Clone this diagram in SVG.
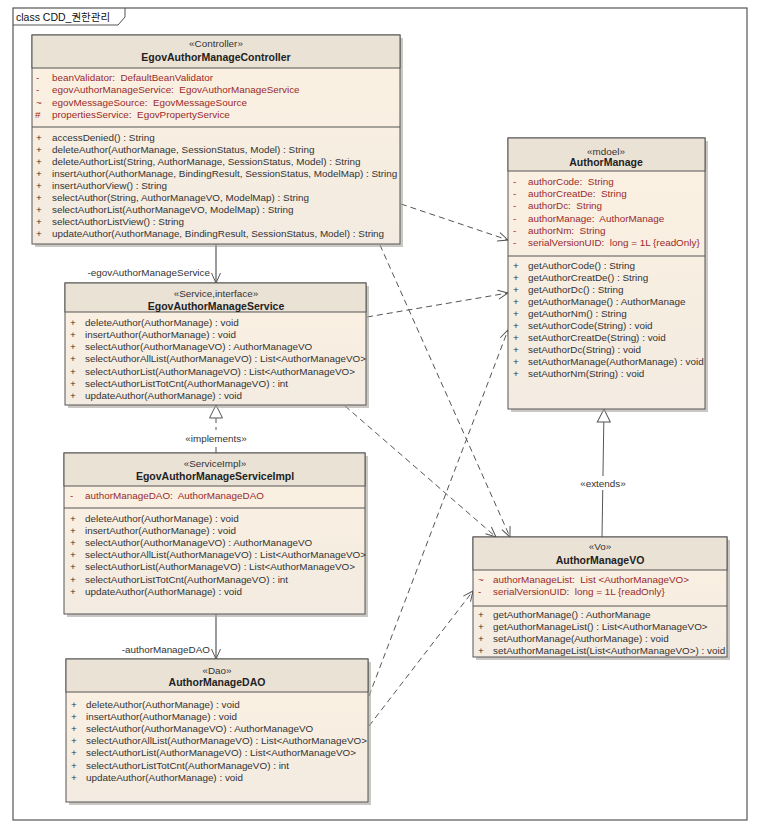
<svg xmlns="http://www.w3.org/2000/svg" width="759" height="831" viewBox="0 0 759 831">
<defs>
<linearGradient id="body" x1="0" y1="0" x2="0" y2="1">
<stop offset="0" stop-color="#fcf1e2"/>
<stop offset="1" stop-color="#f3ebe1"/>
</linearGradient>
<marker id="open" markerWidth="12" markerHeight="12" viewBox="-11 -6 12 12" refX="0" refY="0" orient="auto" markerUnits="userSpaceOnUse">
<path d="M-10,-4.5 L0,0 L-10,4.5" fill="none" stroke="#555" stroke-width="1"/>
</marker>
<marker id="tri" markerWidth="16" markerHeight="16" viewBox="-14 -8 16 16" refX="0" refY="0" orient="auto" markerUnits="userSpaceOnUse">
<path d="M-13,-6.5 L0,0 L-13,6.5 Z" fill="#fff" stroke="#555" stroke-width="1"/>
</marker>
</defs>
<style>
text{font-family:"Liberation Sans",Arial,"Noto Sans CJK KR",sans-serif;font-size:9.9px;fill:#333}
.st{text-anchor:middle}
.nm{text-anchor:middle;font-weight:bold;font-size:10.5px;fill:#222}
.at{fill:#9a2a2a;white-space:pre}
.sh{fill:#a8a39c;opacity:0.6}
.hd{fill:#ebe2d6;stroke:#555;stroke-width:1}
.bd{fill:url(#body);stroke:#555;stroke-width:1}
.sep{stroke:#555;stroke-width:1}
.dep{fill:none;stroke:#555;stroke-width:1;stroke-dasharray:6,4;marker-end:url(#open)}
.asc{fill:none;stroke:#666;stroke-width:1.3;marker-end:url(#open)}
.lbl{fill:#333}
</style>
<rect x="0" y="0" width="759" height="831" fill="#fff"/>
<g id="frame">
<rect x="13" y="8" width="734" height="812" fill="none" stroke="#555" stroke-width="1.2"/>
<path d="M13,25 L118,25 L125,17 L125,8" fill="none" stroke="#555" stroke-width="1"/>
<text x="16" y="20.5" style="font-size:10.5px;fill:#111">class CDD_권한관리</text>
</g>

<g id="connectors">
<line x1="216" y1="244" x2="216" y2="283" class="asc"/>
<line x1="216" y1="614" x2="216" y2="659" class="asc"/>
<line x1="216" y1="453" x2="216" y2="405" fill="none" stroke="#555" stroke-width="1" stroke-dasharray="6,4" marker-end="url(#tri)"/>
<line x1="602" y1="537" x2="604" y2="409" fill="none" stroke="#555" stroke-width="1" marker-end="url(#tri)"/>
<line x1="401" y1="204" x2="508" y2="240" class="dep"/>
<line x1="367" y1="317" x2="508" y2="293" class="dep"/>
<line x1="380" y1="245" x2="510" y2="537" class="dep"/>
<line x1="345" y1="406" x2="496" y2="537" class="dep"/>
<line x1="369" y1="696" x2="508" y2="330" class="dep"/>
<line x1="369" y1="726" x2="473" y2="591" class="dep"/>
<text x="210" y="275.5" text-anchor="end" class="lbl">-egovAuthorManageService</text>
<text x="210" y="652.5" text-anchor="end" class="lbl">-authorManageDAO</text>
<rect x="180" y="430" width="72" height="14" fill="#fff"/>
<text x="216" y="441.5" class="st lbl">«implements»</text>
<rect x="576" y="476" width="54" height="14" fill="#fff"/>
<text x="603" y="486.5" class="st lbl">«extends»</text>
</g>

<g id="EgovAuthorManageController">
<rect x="35" y="38" width="368" height="209" class="sh"/>
<rect x="32" y="35" width="368" height="209" class="bd"/>
<rect x="32" y="35" width="368" height="33" class="hd"/>
<line x1="32" y1="127" x2="400" y2="127" class="sep"/>
<text x="216" y="47" class="st">«Controller»</text>
<text x="216" y="61" class="nm">EgovAuthorManageController</text>
<text x="36" y="80.5" class="at">-</text><text x="52" y="80.5" class="at">beanValidator:  DefaultBeanValidator</text>
<text x="36" y="93" class="at">-</text><text x="52" y="93" class="at">egovAuthorManageService:  EgovAuthorManageService</text>
<text x="36" y="105.5" class="at">~</text><text x="52" y="105.5" class="at">egovMessageSource:  EgovMessageSource</text>
<text x="35" y="117.5" class="at">#</text><text x="52" y="117.5" class="at">propertiesService:  EgovPropertyService</text>
<text x="36" y="140.5">+</text><text x="52" y="140.5">accessDenied() : String</text>
<text x="36" y="152.6">+</text><text x="52" y="152.6">deleteAuthor(AuthorManage, SessionStatus, Model) : String</text>
<text x="36" y="164.7">+</text><text x="52" y="164.7">deleteAuthorList(String, AuthorManage, SessionStatus, Model) : String</text>
<text x="36" y="176.8">+</text><text x="52" y="176.8">insertAuthor(AuthorManage, BindingResult, SessionStatus, ModelMap) : String</text>
<text x="36" y="188.9">+</text><text x="52" y="188.9">insertAuthorView() : String</text>
<text x="36" y="201">+</text><text x="52" y="201">selectAuthor(String, AuthorManageVO, ModelMap) : String</text>
<text x="36" y="213.1">+</text><text x="52" y="213.1">selectAuthorList(AuthorManageVO, ModelMap) : String</text>
<text x="36" y="225.2">+</text><text x="52" y="225.2">selectAuthorListView() : String</text>
<text x="36" y="237.3">+</text><text x="52" y="237.3">updateAuthor(AuthorManage, BindingResult, SessionStatus, Model) : String</text>
</g>

<g id="EgovAuthorManageService">
<rect x="68" y="286" width="301" height="122" class="sh"/>
<rect x="65" y="283" width="301" height="122" class="bd"/>
<rect x="65" y="283" width="301" height="29" class="hd"/>
<text x="216" y="296.5" class="st">«Service,interface»</text>
<text x="216" y="309.5" class="nm">EgovAuthorManageService</text>
<text x="70" y="325.5">+</text><text x="85" y="325.5">deleteAuthor(AuthorManage) : void</text>
<text x="70" y="337.8">+</text><text x="85" y="337.8">insertAuthor(AuthorManage) : void</text>
<text x="70" y="350.1">+</text><text x="85" y="350.1">selectAuthor(AuthorManageVO) : AuthorManageVO</text>
<text x="70" y="362.4">+</text><text x="85" y="362.4">selectAuthorAllList(AuthorManageVO) : List&lt;AuthorManageVO&gt;</text>
<text x="70" y="374.7">+</text><text x="85" y="374.7">selectAuthorList(AuthorManageVO) : List&lt;AuthorManageVO&gt;</text>
<text x="70" y="387">+</text><text x="85" y="387">selectAuthorListTotCnt(AuthorManageVO) : int</text>
<text x="70" y="399.3">+</text><text x="85" y="399.3">updateAuthor(AuthorManage) : void</text>
</g>

<g id="EgovAuthorManageServiceImpl">
<rect x="67" y="456" width="301" height="161" class="sh"/>
<rect x="64" y="453" width="301" height="161" class="bd"/>
<rect x="64" y="453" width="301" height="33" class="hd"/>
<line x1="64" y1="508" x2="365" y2="508" class="sep"/>
<text x="215" y="466.5" class="st">«ServiceImpl»</text>
<text x="215" y="479.5" class="nm">EgovAuthorManageServiceImpl</text>
<text x="70" y="498.5" class="at">-</text><text x="85" y="498.5" class="at">authorManageDAO:  AuthorManageDAO</text>
<text x="70" y="521.5">+</text><text x="85" y="521.5">deleteAuthor(AuthorManage) : void</text>
<text x="70" y="533.7">+</text><text x="85" y="533.7">insertAuthor(AuthorManage) : void</text>
<text x="70" y="545.9">+</text><text x="85" y="545.9">selectAuthor(AuthorManageVO) : AuthorManageVO</text>
<text x="70" y="558.1">+</text><text x="85" y="558.1">selectAuthorAllList(AuthorManageVO) : List&lt;AuthorManageVO&gt;</text>
<text x="70" y="570.3">+</text><text x="85" y="570.3">selectAuthorList(AuthorManageVO) : List&lt;AuthorManageVO&gt;</text>
<text x="70" y="582.5">+</text><text x="85" y="582.5">selectAuthorListTotCnt(AuthorManageVO) : int</text>
<text x="70" y="594.7">+</text><text x="85" y="594.7">updateAuthor(AuthorManage) : void</text>
</g>

<g id="AuthorManageDAO">
<rect x="69" y="662" width="302" height="143" class="sh"/>
<rect x="66" y="659" width="302" height="143" class="bd"/>
<rect x="66" y="659" width="302" height="33" class="hd"/>
<text x="217" y="673.5" class="st">«Dao»</text>
<text x="217" y="685.5" class="nm">AuthorManageDAO</text>
<text x="71" y="707.5">+</text><text x="86" y="707.5">deleteAuthor(AuthorManage) : void</text>
<text x="71" y="719.7">+</text><text x="86" y="719.7">insertAuthor(AuthorManage) : void</text>
<text x="71" y="731.9">+</text><text x="86" y="731.9">selectAuthor(AuthorManageVO) : AuthorManageVO</text>
<text x="71" y="744.1">+</text><text x="86" y="744.1">selectAuthorAllList(AuthorManageVO) : List&lt;AuthorManageVO&gt;</text>
<text x="71" y="756.3">+</text><text x="86" y="756.3">selectAuthorList(AuthorManageVO) : List&lt;AuthorManageVO&gt;</text>
<text x="71" y="768.5">+</text><text x="86" y="768.5">selectAuthorListTotCnt(AuthorManageVO) : int</text>
<text x="71" y="780.7">+</text><text x="86" y="780.7">updateAuthor(AuthorManage) : void</text>
</g>

<g id="AuthorManage">
<rect x="511" y="141" width="197" height="271" class="sh"/>
<rect x="508" y="138" width="197" height="271" class="bd"/>
<rect x="508" y="138" width="197" height="33" class="hd"/>
<line x1="508" y1="256" x2="705" y2="256" class="sep"/>
<text x="606" y="155" class="st">«mdoel»</text>
<text x="606" y="166" class="nm">AuthorManage</text>
<text x="513" y="185.2" class="at">-</text><text x="528" y="185.2" class="at">authorCode:  String</text>
<text x="513" y="197.3" class="at">-</text><text x="528" y="197.3" class="at">authorCreatDe:  String</text>
<text x="513" y="209.4" class="at">-</text><text x="528" y="209.4" class="at">authorDc:  String</text>
<text x="513" y="221.5" class="at">-</text><text x="528" y="221.5" class="at">authorManage:  AuthorManage</text>
<text x="513" y="233.6" class="at">-</text><text x="528" y="233.6" class="at">authorNm:  String</text>
<text x="513" y="245.7" class="at">-</text><text x="528" y="245.7" class="at">serialVersionUID:  long = 1L {readOnly}</text>
<text x="513" y="268.5">+</text><text x="528" y="268.5">getAuthorCode() : String</text>
<text x="513" y="280.6">+</text><text x="528" y="280.6">getAuthorCreatDe() : String</text>
<text x="513" y="292.7">+</text><text x="528" y="292.7">getAuthorDc() : String</text>
<text x="513" y="304.8">+</text><text x="528" y="304.8">getAuthorManage() : AuthorManage</text>
<text x="513" y="316.9">+</text><text x="528" y="316.9">getAuthorNm() : String</text>
<text x="513" y="329">+</text><text x="528" y="329">setAuthorCode(String) : void</text>
<text x="513" y="341.1">+</text><text x="528" y="341.1">setAuthorCreatDe(String) : void</text>
<text x="513" y="353.2">+</text><text x="528" y="353.2">setAuthorDc(String) : void</text>
<text x="513" y="365.3">+</text><text x="528" y="365.3">setAuthorManage(AuthorManage) : void</text>
<text x="513" y="377.4">+</text><text x="528" y="377.4">setAuthorNm(String) : void</text>
</g>

<g id="AuthorManageVO">
<rect x="476" y="540" width="254" height="120" class="sh"/>
<rect x="473" y="537" width="254" height="120" class="bd"/>
<rect x="473" y="537" width="254" height="33" class="hd"/>
<line x1="473" y1="606" x2="727" y2="606" class="sep"/>
<text x="600" y="550" class="st">«Vo»</text>
<text x="600" y="563.5" class="nm">AuthorManageVO</text>
<text x="478" y="582.8" class="at">~</text><text x="493" y="582.8" class="at">authorManageList:  List &lt;AuthorManageVO&gt;</text>
<text x="478" y="595.2" class="at">-</text><text x="493" y="595.2" class="at">serialVersionUID:  long = 1L {readOnly}</text>
<text x="478" y="617.5">+</text><text x="493" y="617.5">getAuthorManage() : AuthorManage</text>
<text x="478" y="629.7">+</text><text x="493" y="629.7">getAuthorManageList() : List&lt;AuthorManageVO&gt;</text>
<text x="478" y="641.9">+</text><text x="493" y="641.9">setAuthorManage(AuthorManage) : void</text>
<text x="478" y="654.1">+</text><text x="493" y="654.1">setAuthorManageList(List&lt;AuthorManageVO&gt;) : void</text>
</g>
</svg>
